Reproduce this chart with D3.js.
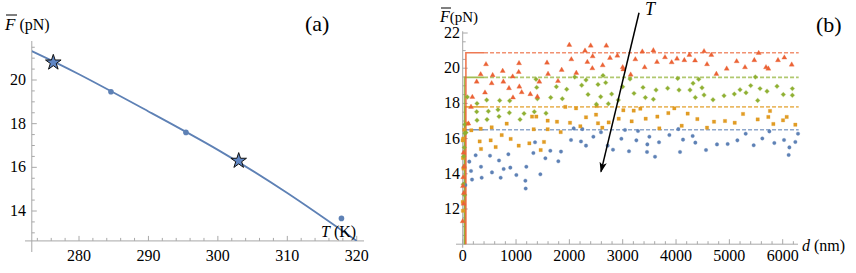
<!DOCTYPE html>
<html>
<head>
<meta charset="utf-8">
<script src="https://cdn.jsdelivr.net/npm/d3@7.9.0/dist/d3.min.js"></script>
<style>
  body { margin: 0; background: #fff; font-family: "Liberation Serif", serif; }
  svg { display: block; }
</style>
</head>
<body>
<svg id="chart" width="856" height="273"></svg>
<script>
// ---- panel (a): mean force vs temperature ----
const fitT = [273.2, 280, 290, 300, 310, 320];
const fitF = [21.32, 20.26, 18.56, 16.8, 14.82, 12.63];
const starT = [276.3, 303.0];
const starF = [20.8, 16.3];
const dotT = [284.6, 295.4, 317.8];
const dotF = [19.46, 17.6, 13.66];
const tTicks = [280, 290, 300, 310, 320];
const fTicksA = [14, 16, 18, 20];

// ---- panel (b): force vs distance, one series per temperature ----
const blueCircles = [
  [2081,16.58],[2031,15.92],[1356,15.79],[1643,15.31],[1843,15.26],[1325,15.18],[1550,14.88],
  [1793,14.71],[856,15.11],[512,15.03],[243,15.05],[681,14.76],[124,14.69],[343,14.4],[893,14.35],
  [768,14.27],[1193,14.4],[156,14.16],[549,14.08],[1006,13.93],[1456,13.97],[356,13.78],[175,13.67],
  [712,13.78],[1175,13.61],[1181,13.16],[50,13.36],
  [2243,16.54],[2593,16.36],[3043,16.49],[3287,16.43],[4043,16.54],[2450,16.11],[2975,15.99],
  [3256,15.9],[3500,16.11],[3875,16.2],[4131,15.94],[2218,15.84],[2312,15.6],[2718,15.6],
  [3462,15.67],[3681,15.79],[2818,15.37],[3118,15.28],[3456,15.24],[4075,15.24],[3606,14.97],
  [5750,16.41],[5306,16.28],[6287,16.28],[4312,16.15],[5618,16.01],[6025,15.92],[4362,15.77],
  [4768,15.67],[4968,15.69],[5150,15.9],[5456,15.62],[5843,15.75],[6237,15.81],[6125,15.5],
  [4562,15.35],[6112,15.07]
];
const orangeSquares = [
  [1924,17.8],[2125,17.72],[1300,17.25],[1381,17.25],[1593,17.02],[1768,16.96],[2012,16.9],
  [825,16.85],[162,16.47],[337,16.56],[543,16.64],[1331,16.53],[1593,16.53],[1837,16.37],
  [731,16.2],[318,15.84],[524,15.9],[899,15.98],[618,15.52],[1050,15.6],[1250,15.73],[1524,15.81],
  [343,15.41],[1462,15.35],[93,16.85],
  [10,16.0],[0,15.9],[5,14.9],[15,14.3],[0,12.4],[5,11.9],[30,16.5],
  [2512,17.85],[3012,17.61],[3206,17.59],[3331,17.7],[3968,17.72],[3856,17.45],[4218,17.42],
  [2312,17.21],[2500,17.36],[2925,17.13],[3650,17.25],[3431,17.13],[2537,16.87],[2737,16.92],
  [3168,16.98],[2206,16.7],[2618,16.62],[3687,16.58],[4106,16.73],
  [5762,17.57],[5256,17.4],[5731,17.23],[6075,17.23],[4400,17.11],[4712,16.96],[4918,17.0],
  [5100,16.9],[5531,17.09],[6006,17.04],[5825,16.83],[6237,16.79],[4581,16.62]
];
const greenDiamonds = [
  [1375,19.37],[1387,18.91],[1756,18.95],[1950,18.8],[2100,19.5],[87,18.36],[450,18.19],
  [693,18.17],[881,18.15],[1400,18.26],[1650,18.33],[1868,18.27],[268,18.0],[262,17.53],
  [481,17.55],[662,17.64],[875,17.47],[1150,17.42],[1343,17.53],[1562,17.44],[268,17.04],
  [456,17.08],[681,17.25],[1075,17.09],[62,16.34],
  [40,16.8],[40,16.3],[30,15.5],[25,14.4],[10,13.4],[35,12.8],[20,15.0],
  [2312,19.33],[2631,19.58],[2681,19.18],[2537,19.08],[2231,19.03],[2999,18.95],[3137,19.39],
  [3381,18.91],[3843,18.86],[4056,18.76],[4031,19.42],[3625,18.76],[2350,18.51],[2587,18.38],
  [2793,18.53],[3212,18.57],[3425,18.33],[3575,18.23],[2918,18.19],[2731,17.98],[2506,17.95],
  [4425,19.37],[5487,19.5],[4319,19.14],[4487,18.89],[5400,19.01],[5200,18.78],[5575,18.84],
  [5893,18.97],[6181,18.84],[4262,18.76],[5706,18.69],[5312,18.61],[4525,18.48],[4900,18.44],
  [5093,18.53],[6012,18.5],[6181,18.46],[4362,18.34],[4693,18.21],[5531,18.17]
];
const redTriangles = [
  [1999,21.32],[2037,20.5],[437,20.22],[1056,20.28],[1581,20.31],[337,19.65],[562,19.6],
  [750,19.84],[1050,19.78],[937,19.52],[1600,19.67],[1856,19.9],[2130,19.73],[262,19.23],
  [543,19.14],[762,19.23],[1437,19.23],[1787,19.27],[868,18.86],[1062,18.95],[418,18.61],
  [1106,18.63],[1268,18.52],[181,18.36],[943,18.33],[1400,18.38],[156,17.8],[106,16.85],
  [15,15.2],[25,14.4],[10,13.8],[5,13.3],[20,12.9],[15,12.3],[0,11.3],
  [2400,21.28],[2693,21.28],[2293,20.99],[2437,20.67],[2762,20.58],[2900,20.71],[3368,20.94],
  [3575,21.01],[3237,20.5],[3793,20.62],[4018,20.54],[4156,20.45],[4250,20.75],[2337,20.35],
  [2625,20.16],[3643,20.35],[3918,20.33],[2431,19.99],[3000,20.05],[3012,19.93],[3412,20.05],
  [3150,19.63],
  [4525,20.96],[4662,20.75],[5550,20.86],[6031,20.6],[4356,20.43],[4581,20.22],[5137,20.39],
  [5468,20.45],[5912,20.45],[6169,20.2],[4950,19.97],[5293,20.05],[5687,20.05],[5731,19.97],
  [4756,19.67]
];
const plateauF = [16.5, 17.8, 19.48, 20.88];   // blue, orange, green, red
const riseD = [35, 40, 35, 60];
const dTicks = [0, 1000, 2000, 3000, 4000, 5000, 6000];
const fTicksB = [12, 14, 16, 18, 20, 22];

const colors = ['#5E81B5', '#E19C24', '#8FB032', '#EB6235'];
const axisColor = '#a8a8a8';
const serif = 'Liberation Serif';

const svg = d3.select('#chart');

// ================= panel (a) =================
const xA = d3.scaleLinear().domain([280, 310]).range([79, 287.3]);
const yA = d3.scaleLinear().domain([14, 20]).range([211, 80]);
const a = svg.append('g');

a.append('defs').append('clipPath').attr('id', 'clipA')
  .append('rect').attr('x', xA(273.2)).attr('y', yA(21.8))
  .attr('width', xA(321) - xA(273.2)).attr('height', yA(12.63) - yA(21.8));

// axes
a.append('line').attr('x1', 25).attr('x2', 364).attr('y1', yA(12.63)).attr('y2', yA(12.63))
  .attr('stroke', axisColor).attr('stroke-width', 1);
a.append('line').attr('x1', xA(273.2)).attr('x2', xA(273.2)).attr('y1', 41).attr('y2', 252)
  .attr('stroke', axisColor).attr('stroke-width', 1);

d3.range(274, 322, 2).forEach(t => {
  const major = t % 10 === 0;
  a.append('line').attr('x1', xA(t)).attr('x2', xA(t))
    .attr('y1', yA(12.63)).attr('y2', yA(12.63) - (major ? 5 : 3))
    .attr('stroke', axisColor);
});
d3.range(13, 22, 0.5).forEach(f => {
  const major = f % 2 === 0;
  a.append('line').attr('x1', xA(273.2)).attr('x2', xA(273.2) + (major ? 5 : 3))
    .attr('y1', yA(f)).attr('y2', yA(f)).attr('stroke', axisColor);
});
a.selectAll('.xl').data(tTicks).join('text')
  .attr('x', d => xA(d)).attr('y', 261).attr('text-anchor', 'middle')
  .attr('font-size', 16).text(d => d);
a.selectAll('.yl').data(fTicksA).join('text')
  .attr('x', 26).attr('y', d => yA(d) + 5).attr('text-anchor', 'end')
  .attr('font-size', 16).text(d => d);

// fit curve
const fitLine = d3.line().x(d => xA(d[0])).y(d => yA(d[1])).curve(d3.curveNatural);
a.append('path').datum(fitT.map((t, i) => [t, fitF[i]]))
  .attr('d', fitLine).attr('fill', 'none').attr('stroke', colors[0])
  .attr('stroke-width', 1.8).attr('clip-path', 'url(#clipA)');

a.selectAll('.dot').data(dotT.map((t, i) => [t, dotF[i]])).join('circle')
  .attr('cx', d => xA(d[0])).attr('cy', d => yA(d[1])).attr('r', 2.8)
  .attr('fill', colors[0]);

a.selectAll('.star').data(starT.map((t, i) => [t, starF[i]])).join('path')
  .attr('transform', d => `translate(${xA(d[0])},${yA(d[1])})`)
  .attr('d', d3.symbol().type(d3.symbolStar).size(75))
  .attr('fill', '#5f86c4').attr('stroke', '#111').attr('stroke-width', 1);

// labels
const la = a.append('text').attr('x', 5).attr('y', 30).attr('font-size', 16);
la.append('tspan').attr('font-style', 'italic').attr('font-size', 17).text('F');
la.append('tspan').text(' (pN)');
a.append('line').attr('x1', 6).attr('x2', 17).attr('y1', 15).attr('y2', 15)
  .attr('stroke', '#000').attr('stroke-width', 1);
const lt = a.append('text').attr('x', 321).attr('y', 237).attr('font-size', 16);
lt.append('tspan').attr('font-style', 'italic').text('T');
lt.append('tspan').text(' (K)');
a.append('text').attr('x', 305).attr('y', 31).attr('font-size', 22).text('(a)');

// ================= panel (b) =================
const xB = d3.scaleLinear().domain([0, 6000]).range([462.7, 782.7]);
const yB = d3.scaleLinear().domain([12, 22]).range([209, 33]);
const b = svg.append('g');

b.append('line').attr('x1', 456).attr('x2', 798).attr('y1', yB(10)).attr('y2', yB(10))
  .attr('stroke', axisColor);
b.append('line').attr('x1', xB(0)).attr('x2', xB(0)).attr('y1', yB(22.1)).attr('y2', yB(9.8))
  .attr('stroke', axisColor);
d3.range(0, 6400, 200).forEach(v => {
  const major = v % 1000 === 0;
  b.append('line').attr('x1', xB(v)).attr('x2', xB(v))
    .attr('y1', yB(10)).attr('y2', yB(10) - (major ? 5 : 3)).attr('stroke', axisColor);
});
d3.range(10.5, 22.5, 0.5).forEach(f => {
  const major = f % 2 === 0;
  b.append('line').attr('x1', xB(0)).attr('x2', xB(0) + (major ? 5 : 3))
    .attr('y1', yB(f)).attr('y2', yB(f)).attr('stroke', axisColor);
});
b.selectAll('.xl').data(dTicks).join('text')
  .attr('x', d => xB(d)).attr('y', 261).attr('text-anchor', 'middle')
  .attr('font-size', 16).text(d => d);
b.selectAll('.yl').data(fTicksB).join('text')
  .attr('x', 460).attr('y', d => yB(d) + 5).attr('text-anchor', 'end')
  .attr('font-size', 16).text(d => d);

// plateau lines: solid rise + short solid, then dashed
plateauF.forEach((f, i) => {
  b.append('line').attr('x1', xB(400)).attr('x2', xB(6300))
    .attr('y1', yB(f)).attr('y2', yB(f))
    .attr('stroke', colors[i]).attr('stroke-opacity', 0.7)
    .attr('stroke-width', 1.6).attr('stroke-dasharray', '4,2');
});
plateauF.forEach((f, i) => {
  b.append('path')
    .attr('d', d3.line()([[xB(riseD[i]), yB(10)], [xB(riseD[i]), yB(f)], [xB(400), yB(f)]]))
    .attr('fill', 'none').attr('stroke', colors[i]).attr('stroke-opacity', 0.85)
    .attr('stroke-width', 1.6);
});

const series = [blueCircles, orangeSquares, greenDiamonds, redTriangles];
const shapes = [
  d3.symbol().type(d3.symbolCircle).size(10),
  d3.symbol().type(d3.symbolSquare).size(11),
  d3.symbol().type(d3.symbolSquare).size(10),
  d3.symbol().type(d3.symbolTriangle).size(11)
];
const rot = [0, 0, 45, 0];
series.forEach((pts, i) => {
  b.append('g').selectAll('path').data(pts).join('path')
    .attr('transform', d => `translate(${xB(d[0])},${yB(d[1])}) rotate(${rot[i]})`)
    .attr('d', shapes[i]).attr('fill', colors[i])
    .attr('stroke', colors[i]).attr('stroke-opacity', 0.3).attr('stroke-width', 1);
});

// arrow indicating increasing T
b.append('defs').append('marker').attr('id', 'arr')
  .attr('viewBox', '0 0 10 10').attr('refX', 9).attr('refY', 5)
  .attr('markerWidth', 7).attr('markerHeight', 7).attr('orient', 'auto')
  .append('path').attr('d', 'M0,1.5 L10,5 L0,8.5 L2.5,5 Z').attr('fill', '#000');
b.append('line').attr('x1', xB(3306)).attr('y1', yB(23.15))
  .attr('x2', xB(2593)).attr('y2', yB(14.12))
  .attr('stroke', '#000').attr('stroke-width', 1.5).attr('marker-end', 'url(#arr)');
b.append('text').attr('x', 645).attr('y', 15).attr('font-size', 18)
  .attr('font-style', 'italic').text('T');

const lb = b.append('text').attr('x', 440).attr('y', 22).attr('font-size', 15);
lb.append('tspan').attr('font-style', 'italic').attr('font-size', 16).text('F');
lb.append('tspan').text('(pN)');
b.append('line').attr('x1', 441).attr('x2', 451).attr('y1', 8).attr('y2', 8)
  .attr('stroke', '#000').attr('stroke-width', 1);
const ld = b.append('text').attr('x', 802).attr('y', 251).attr('font-size', 16);
ld.append('tspan').attr('font-style', 'italic').text('d');
ld.append('tspan').text(' (nm)');
b.append('text').attr('x', 816).attr('y', 32).attr('font-size', 22).text('(b)');

// serif face on every text element
svg.selectAll('text').style('font-family', serif);
</script>
</body>
</html>
